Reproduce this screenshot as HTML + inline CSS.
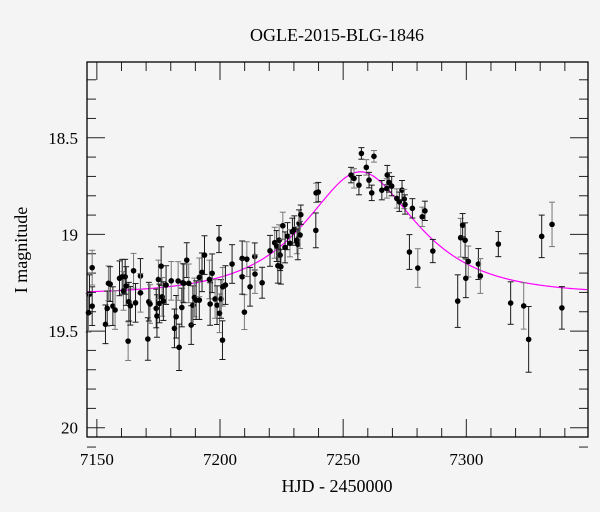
<!DOCTYPE html>
<html><head><meta charset="utf-8"><style>
html,body{margin:0;padding:0;background:#f4f4f4;}
svg{display:block;font-family:"Liberation Serif",serif;}
</style></head><body>
<svg id="chart" width="600" height="512" viewBox="0 0 600 512" xmlns="http://www.w3.org/2000/svg">
<rect width="600" height="512" fill="#f4f4f4"/>
<text x="337" y="41" font-size="18" text-anchor="middle" fill="#000">OGLE-2015-BLG-1846</text>
<text x="337" y="492" font-size="18" text-anchor="middle" fill="#000">HJD - 2450000</text>
<text x="0" y="0" font-size="18" text-anchor="middle" fill="#000" transform="translate(27,250) rotate(-90)">I magnitude</text>
<g id="ticks"></g>
<g id="curve"></g>
<g id="points"></g>
<rect x="87" y="62" width="501" height="375" fill="none" stroke="#000" stroke-width="1.3"/>
</svg>
<script>
const times=[7148.1,7147.0,7148.1,7146.6,7153.5,7154.2,7154.7,7155.4,7156.5,7157.4,7159.2,7160.3,7160.8,7161.5,7161.9,7162.7,7163.0,7163.6,7164.9,7165.7,7167.7,7167.7,7170.7,7171.1,7171.6,7174.1,7174.4,7175.0,7175.4,7176.1,7176.5,7177.0,7178.1,7180.2,7181.5,7182.2,7183.0,7183.4,7184.5,7184.9,7185.3,7186.5,7187.3,7188.3,7189.0,7189.6,7190.3,7191.6,7191.6,7192.7,7193.7,7195.7,7196.0,7196.8,7198.0,7199.6,7198.8,7199.8,7200.4,7201.0,7201.1,7202.2,7204.9,7209.9,
7209.0,7209.0,7210.9,7212.2,7214.1,7214.2,7217.1,7220.3,7222.2,7223.0,7223.5,7224.0,7224.4,7224.7,7225.5,7226.4,7227.4,7228.4,7229.4,7230.2,7231.2,7231.6,7232.1,7232.5,7232.8,7238.9,7239.0,7239.9,7253.2,7254.4,7256.4,7257.4,7259.4,7260.5,7261.6,7262.5,7265.7,7267.9,7267.7,7268.6,7269.7,7271.8,7272.8,7273.9,7274.8,7275.1,7278.1,7282.1,7283.2,7276.9,7280.3,7286.4,
7296.5,7297.7,7298.5,7299.5,7300.8,7299.8,7304.9,7305.7,7313.0,7318.0,7323.3,7325.3,7330.6,7334.8,7338.8];
const mags=[19.172,19.309,19.371,19.405,19.465,19.383,19.253,19.257,19.371,19.391,19.227,19.219,19.292,19.219,19.267,19.552,19.348,19.369,19.188,19.354,19.215,19.302,19.541,19.348,19.36,19.383,19.422,19.233,19.357,19.164,19.323,19.345,19.262,19.24,19.486,19.426,19.241,19.584,19.378,19.25,19.253,19.133,19.253,19.469,19.366,19.326,19.34,19.34,19.222,19.196,19.107,19.233,19.36,19.201,19.334,19.024,19.366,19.408,19.334,19.547,19.271,19.262,19.153,19.402,
19.124,19.219,19.128,19.271,19.114,19.205,19.25,19.085,19.043,19.06,19.162,19.03,19.107,19.167,18.955,19.067,19.009,19.046,18.986,18.974,19.03,19.051,18.943,19.003,18.898,18.979,18.785,18.781,18.693,18.71,18.745,18.581,18.653,18.719,18.785,18.596,18.771,18.693,18.762,18.731,18.75,18.814,18.831,18.771,18.817,18.845,18.865,18.909,18.878,19.091,19.174,19.086,
19.345,19.017,18.952,19.03,19.14,19.227,19.153,19.215,19.05,19.355,19.37,19.543,19.01,18.948,19.38];
const errs=[0.09,0.1,0.1,0.1,0.1,0.09,0.09,0.09,0.1,0.1,0.09,0.09,0.1,0.09,0.1,0.1,0.1,0.1,0.09,0.1,0.09,0.1,0.11,0.1,0.1,0.1,0.11,0.1,0.1,0.1,0.1,0.1,0.1,0.1,0.1,0.11,0.1,0.12,0.1,0.1,0.1,0.09,0.1,0.1,0.1,0.1,0.1,0.1,0.1,0.1,0.1,0.1,0.11,0.1,0.1,0.07,0.1,0.1,0.1,0.1,0.1,0.1,0.1,0.09,
0.09,0.09,0.09,0.1,0.07,0.1,0.08,0.08,0.08,0.08,0.09,0.08,0.08,0.09,0.07,0.08,0.07,0.07,0.07,0.07,0.07,0.08,0.07,0.07,0.05,0.09,0.05,0.05,0.04,0.05,0.05,0.03,0.04,0.04,0.04,0.03,0.05,0.05,0.05,0.05,0.05,0.05,0.05,0.05,0.05,0.05,0.05,0.05,0.05,0.09,0.1,0.06,
0.136,0.1,0.06,0.09,0.08,0.1,0.08,0.09,0.065,0.11,0.12,0.17,0.11,0.115,0.11];
const xTickLabels=[7150,7200,7250,7300];
const yTickLabels=[18.5,19,19.5,20];
const modelParams={t0:7257,u0:0.64,tE:34.4,base:19.31};

const NS="http://www.w3.org/2000/svg";
const L=87,R=588,T=62,B=437;
const X0=7146.0,X1=7349.4,Y0=18.108,Y1=20.048;
function xs(t){return L+(t-X0)/(X1-X0)*(R-L);}
function ys(m){return T+(m-Y0)/(Y1-Y0)*(B-T);}
function mk(tag,attrs,parent){const e=document.createElementNS(NS,tag);for(const k in attrs)e.setAttribute(k,attrs[k]);parent.appendChild(e);return e;}

const tg=document.getElementById('ticks');
for(let v=7150;v<=7340;v+=10){
  const major=(v%50===0);const len=major?18:9;const x=xs(v);
  const a=mk('line',{x1:x,y1:B,x2:x,y2:B-len,stroke:'#222','stroke-width':1},tg);
  
  
  const b=mk('line',{x1:x,y1:T,x2:x,y2:T+len,stroke:'#222','stroke-width':1},tg);
  
  
}
xTickLabels.forEach(v=>{
  const t=mk('text',{x:xs(v),y:465,'font-size':17,'text-anchor':'middle',fill:'#000'},tg);
  t.textContent=String(v);
  
  
});
for(let i=0;i<=19;i++){
  const v=18.2+i*0.1;const y=ys(v);
  const major=Math.abs(v*2-Math.round(v*2))<1e-6;const len=major?18:9;
  const a=mk('line',{x1:L,y1:y,x2:L+len,y2:y,stroke:'#222','stroke-width':1},tg);
  
  
  const b=mk('line',{x1:R,y1:y,x2:R-len,y2:y,stroke:'#222','stroke-width':1},tg);
  
  
}
yTickLabels.forEach(v=>{
  const t=mk('text',{x:78,y:ys(v)+6,'font-size':17,'text-anchor':'end',fill:'#000'},tg);
  t.textContent=String(v);
  
  
});

const cg=document.getElementById('curve');
let d='';
for(let t=X0;t<=X1;t+=0.5){
  const tau=(t-modelParams.t0)/modelParams.tE;const u=Math.sqrt(modelParams.u0*modelParams.u0+tau*tau);
  const A=(u*u+2)/(u*Math.sqrt(u*u+4));const m=modelParams.base-2.5*Math.log10(A);
  d+=(d?'L':'M')+xs(t).toFixed(2)+','+ys(m).toFixed(2);
}
const path=mk('path',{d:d,fill:'none',stroke:'#ff00ff','stroke-width':1.2},cg);



const pg=document.getElementById('points');
times.forEach((t,i)=>{
  const x=xs(t),y=ys(mags[i]),e=errs[i]*(B-T)/(Y1-Y0);
  const col=(i%3===0)?'#777':'#1a1a1a';
  const g=mk('g',{},pg);
  
  
  mk('line',{x1:x,y1:y-e,x2:x,y2:y+e,stroke:col,'stroke-width':1},g);
  mk('line',{x1:x-3,y1:y-e,x2:x+3,y2:y-e,stroke:col,'stroke-width':1},g);
  mk('line',{x1:x-3,y1:y+e,x2:x+3,y2:y+e,stroke:col,'stroke-width':1},g);
  mk('circle',{cx:x,cy:y,r:2.8,fill:'#000'},g);
});
</script>
</body></html>
